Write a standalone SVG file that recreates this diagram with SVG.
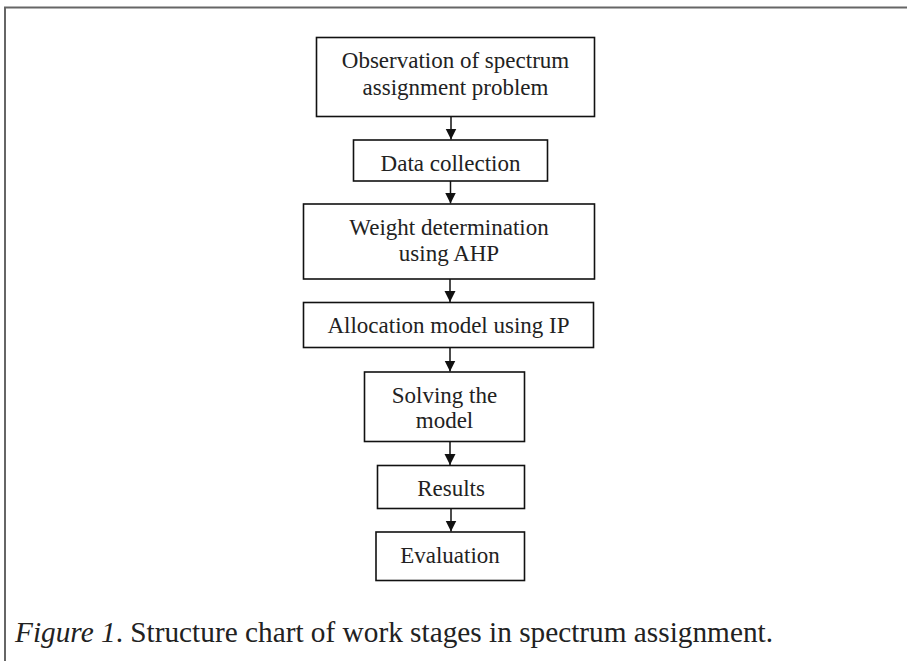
<svg xmlns="http://www.w3.org/2000/svg" width="907" height="661" viewBox="0 0 907 661">
<style>
.box{fill:#fff;stroke:#111;stroke-width:1.6}
.t{font-family:"Liberation Serif","Times New Roman",serif;font-size:23px;fill:#222;text-anchor:middle}
.cap{font-family:"Liberation Serif","Times New Roman",serif;font-size:29.3px;fill:#222}
.ln{stroke:#111;stroke-width:1.5;fill:none}
.frame{stroke:#666;stroke-width:2;fill:none}
</style>
<defs>
<marker id="ah" markerWidth="11" markerHeight="12" refX="11" refY="6" orient="auto" markerUnits="userSpaceOnUse">
<path d="M0,0.5 L11,6 L0,11.5 Z" fill="#111"/>
</marker>
</defs>
<rect width="907" height="661" fill="#fff"/>
<path class="frame" d="M5,661 V7.5 H907"/>
<g id="n1"><rect class="box" x="316.5" y="37.5" width="278" height="79"/>
<text class="t" x="455.5" y="68">Observation of spectrum</text>
<text class="t" x="455.5" y="95">assignment problem</text></g>
<g id="n2"><rect class="box" x="353.5" y="140" width="194" height="41"/>
<text class="t" x="450.5" y="171">Data collection</text></g>
<g id="n3"><rect class="box" x="303.5" y="204" width="291" height="75"/>
<text class="t" x="449" y="235">Weight determination</text>
<text class="t" x="449" y="260.5">using AHP</text></g>
<g id="n4"><rect class="box" x="303.5" y="302.5" width="290" height="45"/>
<text class="t" x="448.5" y="333">Allocation model using IP</text></g>
<g id="n5"><rect class="box" x="364.5" y="372" width="160" height="69.5"/>
<text class="t" x="444.5" y="403">Solving the</text>
<text class="t" x="444.5" y="428">model</text></g>
<g id="n6"><rect class="box" x="377.5" y="465.5" width="147" height="43"/>
<text class="t" x="451" y="496">Results</text></g>
<g id="n7"><rect class="box" x="376" y="532" width="148.5" height="48.5"/>
<text class="t" x="450" y="562.5">Evaluation</text></g>
<g id="connectors">
<line class="ln" x1="451" y1="117" x2="451" y2="139.5" marker-end="url(#ah)"/>
<line class="ln" x1="450.5" y1="181" x2="450.5" y2="203.5" marker-end="url(#ah)"/>
<line class="ln" x1="450" y1="279" x2="450" y2="302" marker-end="url(#ah)"/>
<line class="ln" x1="450" y1="347.5" x2="450" y2="371.5" marker-end="url(#ah)"/>
<line class="ln" x1="450" y1="441.5" x2="450" y2="465" marker-end="url(#ah)"/>
<line class="ln" x1="451" y1="508.5" x2="451" y2="531.5" marker-end="url(#ah)"/>
</g>
<text class="cap" x="15" y="641.5"><tspan font-style="italic">Figure 1</tspan>. Structure chart of work stages in spectrum assignment.</text>
</svg>
